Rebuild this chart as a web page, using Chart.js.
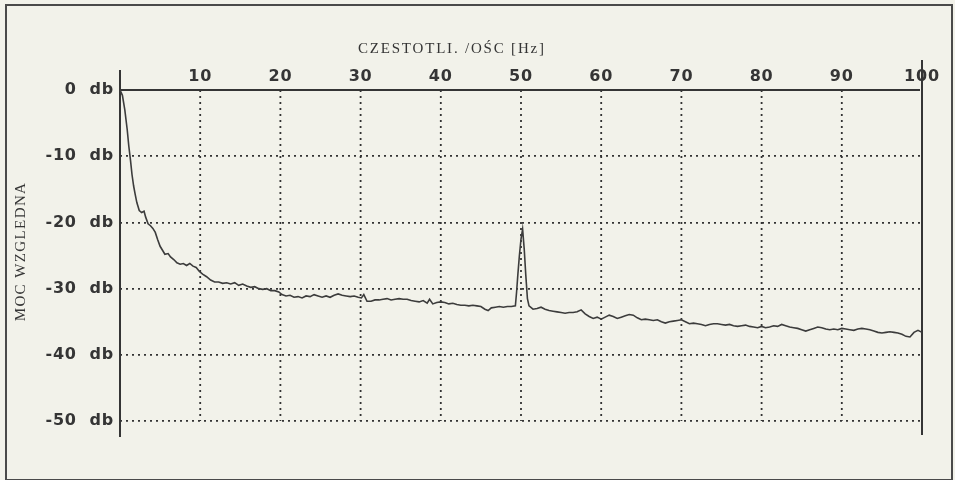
<!DOCTYPE html>
<html>
<head>
<meta charset="utf-8">
<script src="https://cdn.jsdelivr.net/npm/chart.js@4.4.1/dist/chart.umd.min.js"></script>
<style>
  html, body { margin: 0; padding: 0; background: #f2f2ea; }
  canvas { display: block; }
</style>
</head>
<body>
<canvas id="c" width="955" height="480"></canvas>
<script>
const xTitle = 'CZESTOTLI. /OŚC [Hz]';
const yTitle = 'MOC WZGLEDNA';
const xTickValues = [0, 10, 20, 30, 40, 50, 60, 70, 80, 90, 100];
const yTickValues = [0, -10, -20, -30, -40, -50];
const dbUnit = 'db';

const freqHz = [
  0, 0.3, 0.6, 0.9, 1.1, 1.3, 1.5, 1.7, 1.9, 2.1, 2.4, 2.7, 3.0, 3.2, 3.5, 3.8, 4.1, 4.4, 4.7, 5.0,
  5.3, 5.6, 6.0, 6.3, 6.7, 7.1, 7.5, 7.9, 8.3, 8.7, 9.1, 9.5, 9.9, 10.3, 10.8, 11.3, 11.8, 12.3, 12.8, 13.3,
  13.8, 14.3, 14.8, 15.3, 15.8, 16.3, 16.8, 17.3, 17.8, 18.3, 18.8, 19.3, 19.8, 20.2, 20.7, 21.2, 21.7, 22.2, 22.7, 23.2,
  23.7, 24.2, 24.7, 25.2, 25.7, 26.2, 26.7, 27.2, 27.7, 28.2, 28.7, 29.2, 29.7, 30.1, 30.4, 30.8, 31.3, 31.8, 32.3, 32.8,
  33.3, 33.8, 34.3, 34.8, 35.3, 35.8, 36.3, 36.8, 37.3, 37.8, 38.3, 38.6, 39.0, 39.5, 40.0, 40.5, 41.0, 41.5, 42.0, 42.5,
  43.0, 43.5, 44.0, 44.5, 45.0, 45.5, 45.9, 46.3, 46.8, 47.3, 47.8, 48.3, 48.8, 49.3, 49.45, 49.6, 49.8, 50.0, 50.2, 50.4,
  50.6, 50.8, 51.0, 51.5, 52.0, 52.5, 53.0, 53.5, 54.0, 54.5, 55.0, 55.5, 56.0, 56.5, 57.0, 57.5, 58.0, 58.5, 59.0, 59.5,
  60.0, 60.5, 61.0, 61.5, 62.0, 62.5, 63.0, 63.5, 64.0, 64.5, 65.0, 65.5, 66.0, 66.5, 67.0, 67.5, 68.0, 68.5, 69.0, 69.5,
  70.0, 70.5, 71.0, 71.5, 72.0, 72.5, 73.0, 73.5, 74.0, 74.5, 75.0, 75.5, 76.0, 76.5, 77.0, 77.5, 78.0, 78.5, 79.0, 79.5,
  80.0, 80.5, 81.0, 81.5, 82.0, 82.5, 83.0, 83.5, 84.0, 84.5, 85.0, 85.5, 86.0, 86.5, 87.0, 87.5, 88.0, 88.5, 89.0, 89.5,
  90.0, 90.5, 91.0, 91.5, 92.0, 92.5, 93.0, 93.5, 94.0, 94.5, 95.0, 95.5, 96.0, 96.5, 97.0, 97.5, 98.0, 98.5, 99.0, 99.5,
  100
];
const powerDb = [
  0, -0.8, -3, -6, -8.5, -10.5, -12.8, -14.5, -15.8, -17, -18.2, -18.5, -18.3, -19.2, -20.2, -20.5, -20.9, -21.5, -22.6, -23.6,
  -24.2, -24.8, -24.7, -25.2, -25.6, -26.1, -26.3, -26.2, -26.5, -26.2, -26.6, -26.8, -27.4, -27.8, -28.2, -28.7, -29.0, -29.0, -29.2, -29.1,
  -29.3, -29.1, -29.5, -29.3, -29.6, -29.8, -29.7, -30.0, -30.1, -30.0, -30.3, -30.3, -30.5, -30.9, -31.1, -31.0, -31.3, -31.2, -31.4, -31.1,
  -31.2, -30.9, -31.1, -31.3, -31.1, -31.3, -31.0, -30.8, -31.0, -31.1, -31.2, -31.1, -31.3, -31.4, -30.9, -31.9, -31.9, -31.7, -31.7, -31.6,
  -31.5, -31.7, -31.6, -31.5, -31.6, -31.6, -31.8, -31.9, -32.0, -31.8, -32.2, -31.6, -32.3, -32.1, -32.0, -32.1, -32.3, -32.2, -32.4, -32.5,
  -32.5, -32.6, -32.5, -32.6, -32.7, -33.1, -33.3, -32.9, -32.8, -32.7, -32.8, -32.7, -32.7, -32.6, -30.5, -28, -25, -22.5, -21, -24,
  -28, -31.5, -32.6, -33.1, -33.0, -32.8, -33.1, -33.3, -33.4, -33.5, -33.6, -33.7, -33.6, -33.6, -33.5, -33.2, -33.8, -34.2, -34.5, -34.3,
  -34.6, -34.3, -34.0, -34.2, -34.5, -34.3, -34.1, -33.9, -34.0, -34.4, -34.7, -34.6, -34.7, -34.8, -34.7, -35.0, -35.2, -35.0, -34.9, -34.8,
  -34.7, -35.0, -35.3, -35.2, -35.3, -35.4, -35.6, -35.4, -35.3, -35.3, -35.4, -35.5, -35.4, -35.6, -35.7, -35.6, -35.5, -35.7, -35.8, -35.9,
  -35.7, -35.9, -35.8, -35.6, -35.7, -35.4, -35.6, -35.8, -35.9, -36.0, -36.2, -36.4, -36.2, -36.0, -35.8, -35.9, -36.1, -36.2, -36.1, -36.2,
  -36.0, -36.1, -36.2, -36.3, -36.1, -36.0, -36.1, -36.2, -36.4, -36.6, -36.7, -36.6, -36.5, -36.6, -36.7, -36.9, -37.2, -37.3, -36.6, -36.3,
  -36.6
];

const INK = '#353535';
const BG = '#f2f2ea';
const tickFont = { family: '"DejaVu Sans", Verdana, sans-serif', size: 16, weight: 'bold' };

const decor = {
  id: 'decor',
  beforeDraw(chart) {
    const { ctx, width, height } = chart;
    ctx.save();
    ctx.fillStyle = BG;
    ctx.fillRect(0, 0, width, height);
    ctx.strokeStyle = '#4a4a4a';
    ctx.lineWidth = 2;
    ctx.strokeRect(6, 5, width - 9, height - 5);
    ctx.restore();
    ctx.letterSpacing = '0.8px';
  },
  beforeDatasetsDraw(chart) {
    const { ctx, chartArea, scales: { x, y } } = chart;
    ctx.save();
    ctx.letterSpacing = '0px';
    ctx.strokeStyle = '#333';
    ctx.lineWidth = 1.8;
    ctx.setLineDash([2, 4]);
    const yTop = y.getPixelForValue(yTickValues[0]);
    const yBot = y.getPixelForValue(yTickValues[yTickValues.length - 1]);
    x.ticks.forEach(t => {
      if (t.value === 0 || t.value === 100) return;
      const px = x.getPixelForValue(t.value);
      ctx.beginPath();
      ctx.moveTo(px, yTop);
      ctx.lineTo(px, yBot);
      ctx.stroke();
    });
    ctx.setLineDash([]);
    ctx.strokeStyle = INK;
    ctx.lineWidth = 2;
    ctx.beginPath();
    ctx.moveTo(chartArea.left, yTop);
    ctx.lineTo(chartArea.right - 2, yTop);
    ctx.stroke();
    ctx.beginPath();
    ctx.moveTo(chartArea.left, chartArea.top - 20);
    ctx.lineTo(chartArea.left, chartArea.bottom);
    ctx.stroke();
    ctx.beginPath();
    ctx.moveTo(chartArea.right, chartArea.top - 30);
    ctx.lineTo(chartArea.right, chartArea.bottom - 2);
    ctx.stroke();
    ctx.restore();
  },
  afterDraw(chart) {
    const { ctx, chartArea } = chart;
    ctx.save();
    ctx.fillStyle = INK;
    ctx.letterSpacing = '1.8px';
    ctx.font = '15px "Liberation Serif", "Times New Roman", serif';
    ctx.textAlign = 'left';
    ctx.textBaseline = 'alphabetic';
    ctx.fillText(xTitle, chartArea.left + 238, chartArea.top - 37);
    ctx.restore();

    ctx.save();
    ctx.fillStyle = INK;
    ctx.letterSpacing = '1.4px';
    ctx.font = '15px "Liberation Serif", "Times New Roman", serif';
    ctx.translate(21, (chartArea.top + chartArea.bottom) / 2 - 12);
    ctx.rotate(-Math.PI / 2);
    ctx.textAlign = 'center';
    ctx.textBaseline = 'middle';
    ctx.fillText(yTitle, 0, 0);
    ctx.restore();
  }
};

new Chart(document.getElementById('c'), {
  type: 'line',
  data: {
    datasets: [{
      data: freqHz.map((f, i) => ({ x: f, y: powerDb[i] })),
      borderColor: '#3c3c3c',
      borderWidth: 1.6,
      pointRadius: 0,
      tension: 0,
      fill: false
    }]
  },
  options: {
    responsive: false,
    devicePixelRatio: 1,
    animation: false,
    layout: { padding: { left: 0, top: 0, right: 33, bottom: 43 } },
    plugins: { legend: { display: false }, tooltip: { enabled: false }, title: { display: false } },
    scales: {
      x: {
        type: 'linear',
        position: 'top',
        min: xTickValues[0],
        max: xTickValues[xTickValues.length - 1],
        afterFit: s => { s.height = 90; },
        afterBuildTicks: s => { s.ticks = xTickValues.map(v => ({ value: v })); },
        grid: { display: false, drawTicks: false },
        border: { display: false },
        ticks: {
          padding: 4,
          color: INK,
          font: tickFont,
          maxRotation: 0,
          autoSkip: false,
          callback: v => (v === 0 ? '' : String(v))
        }
      },
      y: {
        type: 'linear',
        min: -52.4,
        max: 0,
        afterFit: s => { s.width = 120; },
        afterBuildTicks: s => { s.ticks = yTickValues.map(v => ({ value: v })); },
        grid: { color: '#333', lineWidth: 1.8, drawTicks: false },
        border: { display: false, dash: [2, 4] },
        ticks: {
          padding: 6,
          color: INK,
          font: tickFont,
          autoSkip: false,
          callback: v => v + '  ' + dbUnit
        }
      }
    }
  },
  plugins: [decor]
});
</script>
</body>
</html>
